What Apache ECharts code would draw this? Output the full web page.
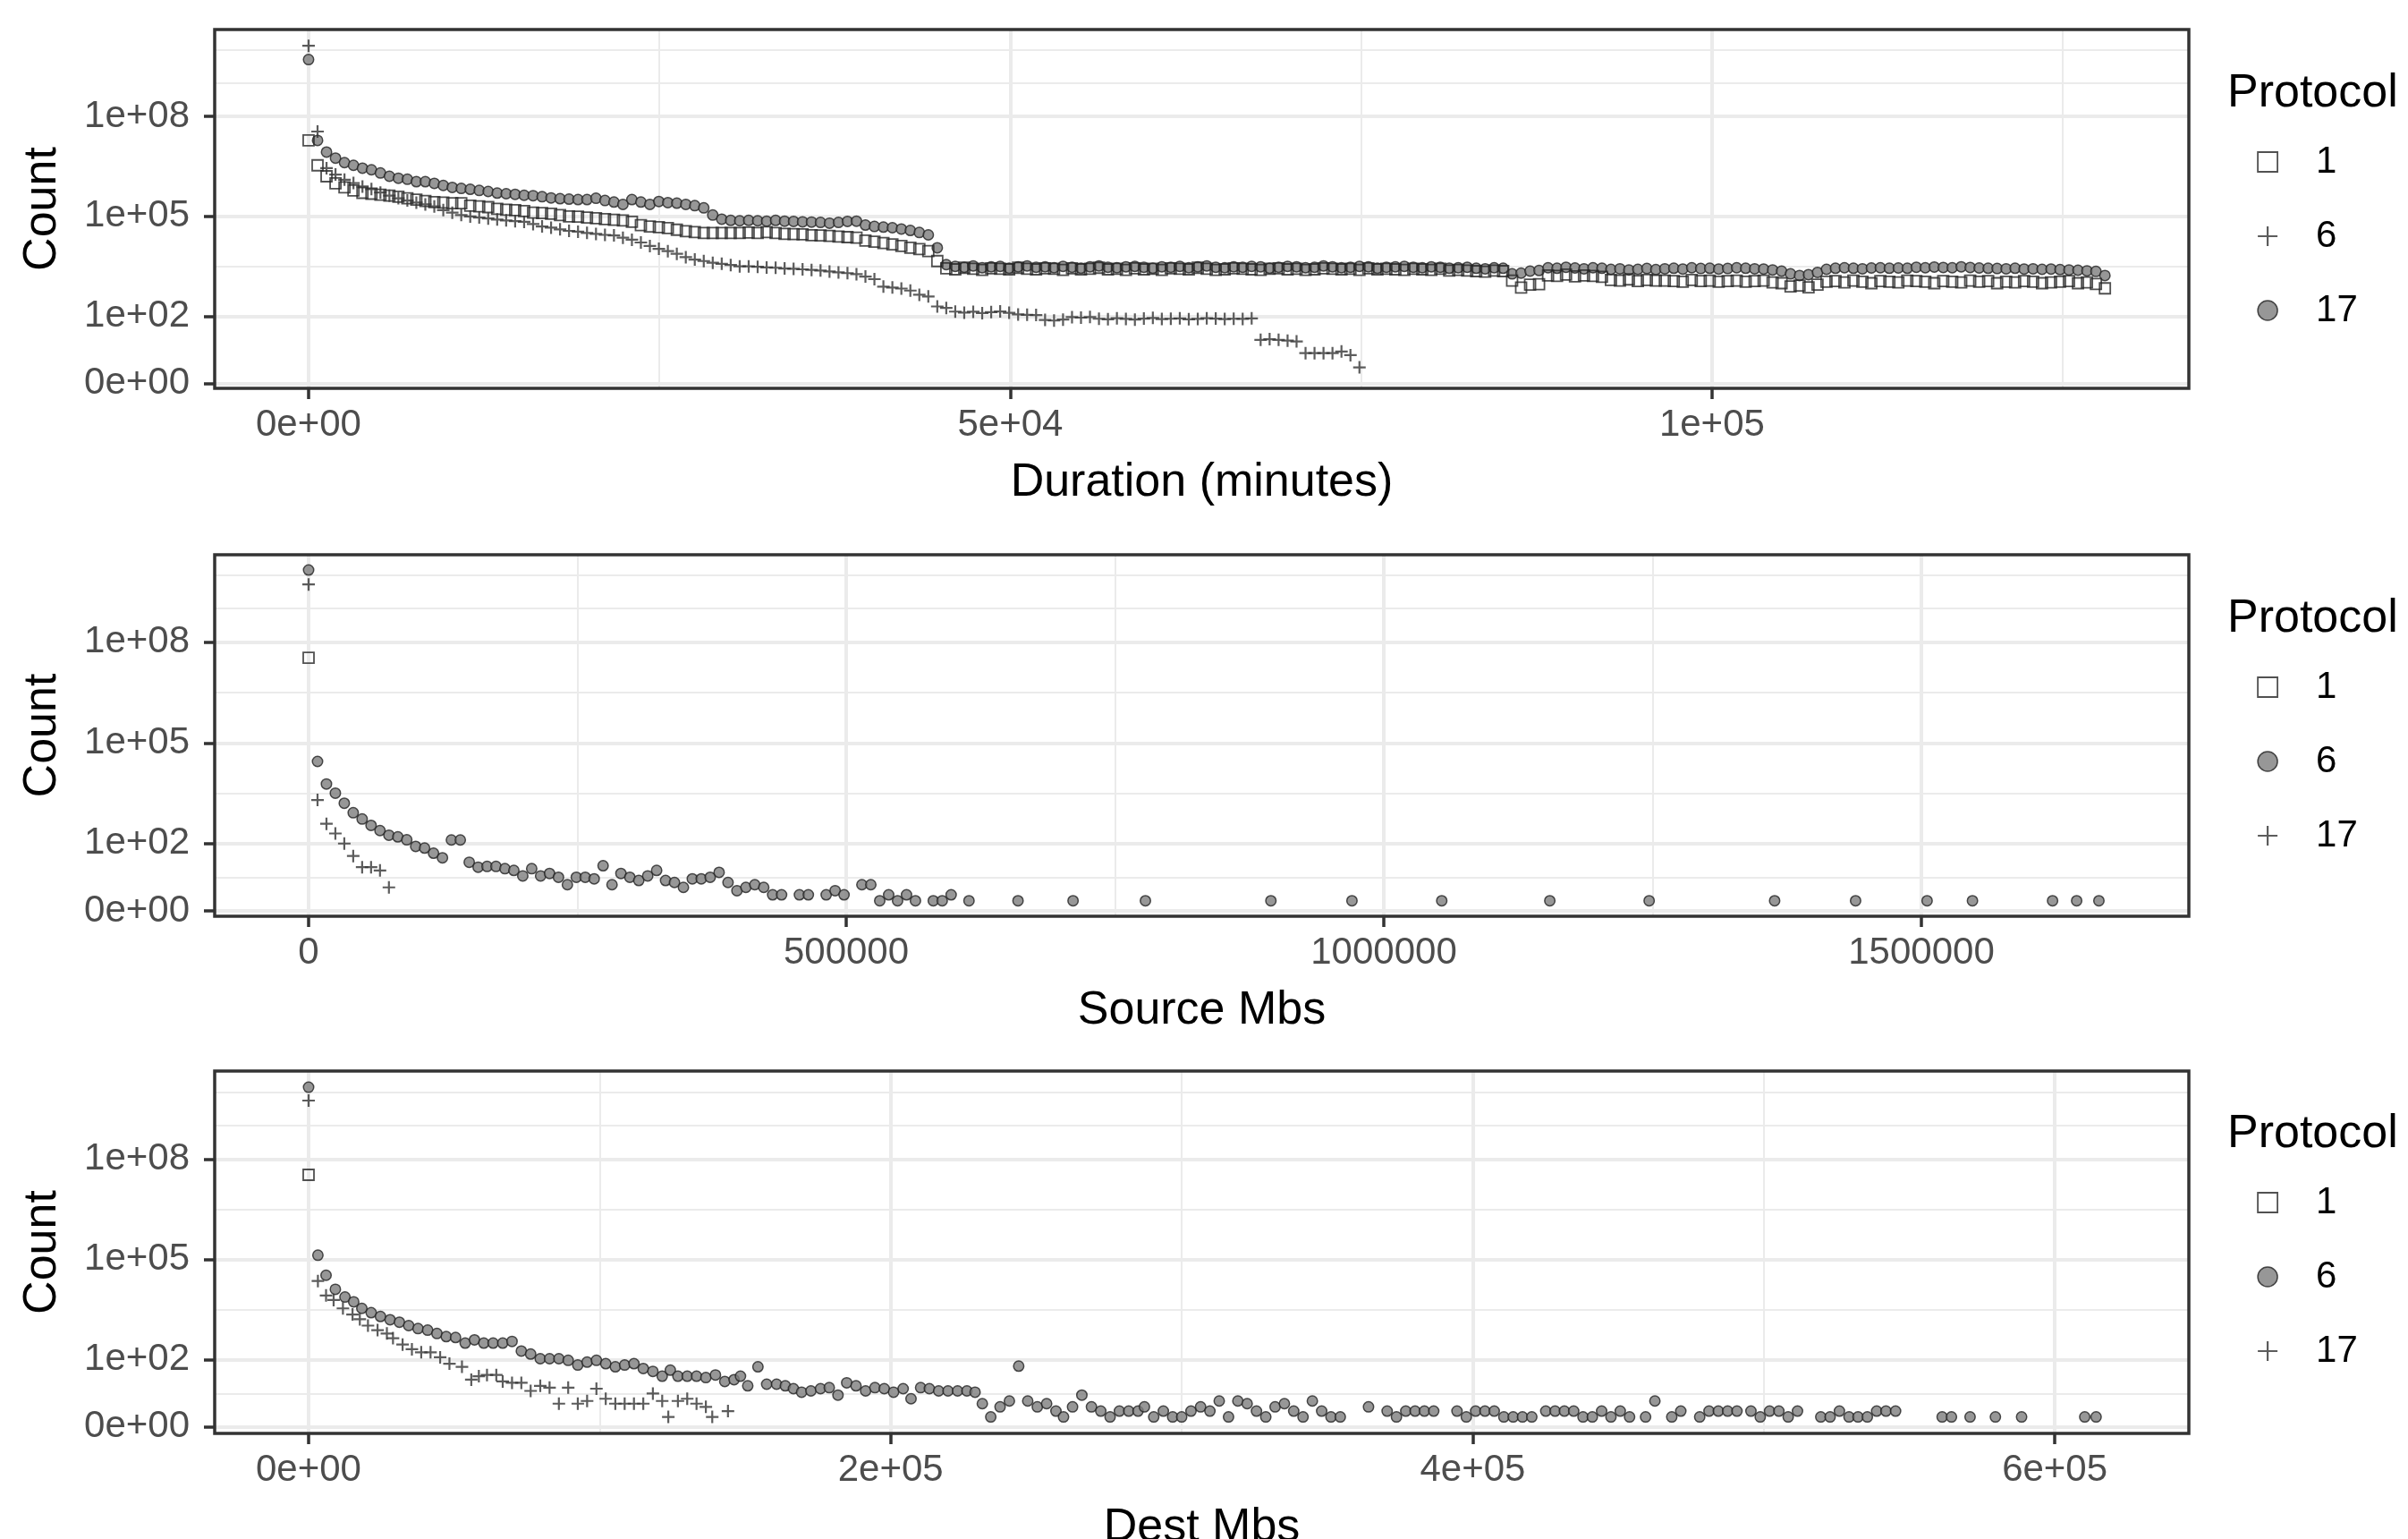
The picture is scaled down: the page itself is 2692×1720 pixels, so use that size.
<!DOCTYPE html>
<html>
<head>
<meta charset="utf-8">
<title>Flow counts by protocol</title>
<script src="https://cdn.jsdelivr.net/npm/echarts@6.0.0/dist/echarts.min.js"></script>
<style>
  html, body { margin: 0; padding: 0; background: #ffffff; }
  #chart { width: 2692px; height: 1720px; }
</style>
</head>
<body>
<div id="chart"></div>
<script>
// ---------- Duration (minutes): flow counts per 640-minute bin (bin i starts at i * 640) ----------
const durBinMinutes = 640;
const durCount17 = [
  5.0e9, 1.9e7, 8.5e6, 5.6e6, 4.1e6, 3.4e6, 2.8e6, 2.5e6, 2.0e6, 1.6e6,
  1.4e6, 1.3e6, 1.1e6, 1.1e6, 9.8e5, 8.5e5, 7.4e5, 6.9e5, 6.5e5, 6.0e5,
  5.6e5, 5.0e5, 4.8e5, 4.6e5, 4.3e5, 4.2e5, 3.9e5, 3.6e5, 3.4e5, 3.3e5,
  3.2e5, 3.2e5, 3.5e5, 3.0e5, 2.7e5, 2.3e5, 3.2e5, 2.7e5, 2.3e5, 2.8e5,
  2.6e5, 2.5e5, 2.3e5, 2.1e5, 1.8e5, 1.1e5, 8.3e4, 7.6e4, 7.4e4, 7.6e4,
  7.4e4, 7.2e4, 7.6e4, 7.2e4, 7.1e4, 6.9e4, 6.8e4, 6.6e4, 6.3e4, 6.6e4,
  7.1e4, 7.2e4, 5.5e4, 5.0e4, 4.8e4, 4.6e4, 4.2e4, 3.8e4, 3.3e4, 2.8e4,
  1.15e4, 3600, 3200, 3000, 3300, 2900, 3100, 3200, 2800, 3100,
  3300, 3000, 3100, 2900, 3200, 3000, 2800, 3100, 3300, 3000,
  2900, 3100, 3200, 3000, 2800, 3100, 3000, 3200, 2900, 3100,
  3300, 3000, 2900, 3100, 3000, 3200, 3100, 2800, 3000, 3200,
  3100, 2900, 3000, 3300, 3100, 2900, 3000, 3200, 3100, 2800,
  3000, 3100, 3200, 3000, 2900, 3100, 3000, 2800, 2900, 3000,
  2800, 2700, 2900, 2800, 1900, 2000, 2300, 2400, 2900, 2800,
  3000, 2850, 2700, 2900, 2800, 2600, 2700, 2500, 2600, 2750,
  2550, 2700, 2800, 2650, 2900, 2750, 2800, 2650, 2750, 2900,
  2800, 2700, 2650, 2500, 2300, 1900, 1700, 1800, 2100, 2600,
  2800, 2900, 2800, 2700, 2850, 2900, 2800, 2850, 2800, 3000,
  2900, 3050, 2950, 2900, 3100, 2950, 2850, 2800, 2750, 2700,
  2800, 2650, 2700, 2600, 2650, 2550, 2500, 2450, 2350, 2250,
  1700
];
const durCount1 = [
  1.9e7, 3.4e6, 1.6e6, 9.8e5, 7.4e5, 6.0e5, 5.1e5, 4.8e5, 4.5e5, 4.2e5,
  3.9e5, 3.5e5, 3.2e5, 2.9e5, 2.7e5, 2.6e5, 2.5e5, 2.5e5, 2.1e5, 2.0e5,
  1.9e5, 1.7e5, 1.6e5, 1.55e5, 1.45e5, 1.3e5, 1.26e5, 1.2e5, 1.1e5, 1.0e5,
  9.8e4, 9.3e4, 8.9e4, 8.3e4, 7.9e4, 7.6e4, 6.9e4, 5.5e4, 5.0e4, 4.8e4,
  4.5e4, 4.0e4, 3.6e4, 3.4e4, 3.2e4, 3.2e4, 3.2e4, 3.2e4, 3.2e4, 3.3e4,
  3.2e4, 3.4e4, 3.2e4, 3.0e4, 2.95e4, 2.9e4, 2.75e4, 2.7e4, 2.6e4, 2.5e4,
  2.4e4, 2.3e4, 1.9e4, 1.75e4, 1.6e4, 1.45e4, 1.3e4, 1.15e4, 1.05e4, 9100,
  4600, 2800, 2600, 2900, 2700, 2500, 2800, 2700, 2600, 2900,
  2700, 2600, 2800, 2700, 2500, 2800, 2600, 2700, 2900, 2600,
  2700, 2500, 2800, 2600, 2700, 2500, 2800, 2700, 2600, 2900,
  2700, 2500, 2600, 2800, 2700, 2600, 2500, 2700, 2800, 2600,
  2700, 2500, 2600, 2800, 2700, 2600, 2700, 2500, 2800, 2600,
  2700, 2600, 2500, 2700, 2600, 2500, 2700, 2400, 2500, 2400,
  2300, 2200, 2400, 2300, 1200, 740, 900, 930, 1700, 1650,
  1800, 1600, 1700, 1650, 1550, 1250, 1200, 1300, 1150, 1250,
  1200, 1200, 1150, 1100, 1250, 1150, 1200, 1100, 1150, 1200,
  1100, 1150, 1200, 1050, 1000, 800, 850, 750, 900, 1100,
  1150, 1050, 1200, 1100, 1000, 1150, 1100, 1050, 1200, 1150,
  1100, 1000, 1150, 1100, 1050, 1200, 1100, 1150, 1000, 1100,
  1050, 1150, 1100, 1000, 1050, 1100, 1150, 1000, 1050, 950,
  700
];
const durCount6 = [
  1.3e10, 3.5e7, 2.8e6, 1.8e6, 1.26e6, 1.0e6, 7.9e5, 6.6e5, 5.2e5, 4.2e5,
  3.5e5, 3.0e5, 2.6e5, 2.3e5, 2.0e5, 1.55e5, 1.3e5, 1.1e5, 1.0e5, 9.3e4,
  8.7e4, 8.1e4, 7.6e4, 7.2e4, 6.9e4, 5.9e4, 5.0e4, 4.6e4, 4.1e4, 3.7e4,
  3.5e4, 3.2e4, 3.0e4, 2.8e4, 2.7e4, 2.3e4, 2.0e4, 1.66e4, 1.3e4, 1.07e4,
  9100, 7600, 6000, 5100, 4600, 4100, 3800, 3500, 3200, 3200,
  3100, 2950, 2900, 2750, 2700, 2600, 2500, 2400, 2240, 2100,
  2000, 1860, 1580, 1320, 790, 740, 690, 600, 450, 400,
  200, 180, 140, 130, 138, 126, 135, 141, 129, 115,
  112, 110, 78, 75, 80, 95, 92, 96, 85, 82,
  88, 84, 80, 86, 90, 83, 85, 87, 82, 84,
  88, 86, 83, 85, 84, 87, 19, 20, 19, 18,
  17, 7, 7, 7, 7, 8, 6, 2
];

// ---------- Source Mbs ----------
const srcX1 = [0];
const srcCount1 = [3.4e7];
const srcX6 = [
  0, 8300, 16600, 24900, 33200, 41500, 49800, 58100, 66400, 74700,
  83000, 91300, 99600, 107900, 116200, 124500, 132800, 141100, 149400, 157700,
  166000, 174300, 182600, 190900, 199200, 207500, 215800, 224100, 232400, 240700,
  249000, 257300, 265600, 273900, 282200, 290500, 298800, 307100, 315400, 323700,
  332000, 340300, 348600, 356900, 365200, 373500, 381800, 390100, 398400, 406700,
  415000, 423300, 431600, 439900,
  456500, 464800, 481400, 489700, 498000, 514600, 522900, 531200, 539500, 547800,
  556100, 564400, 581000, 589300, 597600, 614200,
  659800, 711000, 778300, 895000, 970400, 1053900, 1154400, 1246800, 1363500, 1438800,
  1505300, 1547500, 1622000, 1644400, 1665100
];
const srcCount6 = [
  1.4e10, 28000, 6000, 3200, 1600, 830, 540, 350, 245, 178,
  158, 129, 82, 73, 51, 37, 128, 128, 27, 19,
  20, 20, 17, 15, 10, 17, 10, 12, 9, 5,
  9, 9, 8, 21, 5, 12, 9, 7, 10, 15,
  7, 6, 4, 8, 8, 9, 13, 6, 3, 4,
  5, 4, 2, 2,
  2, 2, 2, 3, 2, 5, 5, 1, 2, 1,
  2, 1, 1, 1, 2, 1,
  1, 1, 1, 1, 1, 1, 1, 1, 1, 1,
  1, 1, 1, 1, 1
];
const srcX17 = [0, 8300, 16600, 24900, 33200, 41500, 49800, 58100, 66400, 74700];
const srcCount17 = [5.2e9, 2000, 390, 200, 100, 42, 19, 19, 15, 4];

// ---------- Dest Mbs ----------
const dstX1 = [0];
const dstCount1 = [3.4e7];
const dstX6 = [
  0, 3200, 6000, 9200, 12500, 15500, 18300, 21500, 24700, 28000,
  31200, 34400, 37600, 40900, 44100, 47300, 50500, 53800, 57000, 60200,
  63400, 66700, 69900, 73100, 76300, 79600, 82800, 86000, 89200, 92500,
  95700, 98900, 102100, 105400, 108600, 111800, 115000, 118300, 121500, 124300,
  126900, 130100, 133300, 136500, 139800, 143000, 146200, 148400, 150900, 154400,
  157400, 160800, 163800, 166600, 169400, 172600, 175900, 178900, 181900, 184900,
  188100, 191400, 194600, 197800, 201000, 204300, 207000, 210300, 213300, 216500,
  219700, 223000, 226200, 229000, 231500,
  234400, 237600, 240800, 244000, 247100, 250400, 253600, 256800, 259400, 262500,
  265700, 269000, 272200, 275400, 278600, 281800, 285000, 287200, 290400, 293700,
  296900, 300000, 303200, 306500, 309700, 312900, 316100, 319300, 322500, 325700,
  328900, 332100, 335300, 338500, 341700, 344900, 348100, 351300, 354500, 364200,
  370600, 373800, 377000, 380200, 383400, 386600, 394600, 397800, 401000, 404200,
  407400, 410700, 413900, 417100, 420300, 425100, 428300, 431500, 434700, 437900,
  441100, 444300, 447500, 450700, 453900, 459400, 462600, 468400, 471500, 478000,
  481200, 484400, 487600, 490800, 495600, 498800, 502000, 505200, 508400, 511600,
  519600, 522800, 526000, 529300, 532400, 535600, 538800, 542000, 545300, 561300,
  564500, 570900, 579600, 588600, 610300, 614200
];
const dstCount6 = [
  1.4e10, 135000, 34000, 13000, 7600, 5500, 3500, 2600, 2000, 1600,
  1350, 1070, 870, 780, 620, 500, 470, 320, 400, 320,
  320, 320, 360, 185, 150, 109, 109, 109, 97, 70,
  86, 97, 77, 62, 70, 77, 55, 45, 32, 49,
  32, 32, 32, 29, 35, 22, 25, 32, 16, 62,
  18, 18, 16, 13, 10, 11, 13, 14, 8, 20,
  16, 11, 14, 13, 10, 13, 6, 14, 13, 11,
  11, 11, 11, 10, 4,
  1, 3, 5, 65, 5, 3, 4, 2, 1, 3,
  8, 3, 2, 1, 2, 2, 2, 3, 1, 2,
  1, 1, 2, 3, 2, 5, 1, 5, 4, 2,
  1, 3, 4, 2, 1, 5, 2, 1, 1, 3,
  2, 1, 2, 2, 2, 2, 2, 1, 2, 2,
  2, 1, 1, 1, 1, 2, 2, 2, 2, 1,
  1, 2, 1, 2, 1, 1, 5, 1, 2, 1,
  2, 2, 2, 2, 2, 1, 2, 2, 1, 2,
  1, 1, 2, 1, 1, 1, 2, 2, 2, 1,
  1, 1, 1, 1, 1, 1
];
const dstX17 = [
  0, 3200, 6000, 8600, 11800, 15100, 17600, 20400, 23700, 26900,
  29000, 32300, 35500, 38700, 41900, 45200, 48400, 52700, 55900, 58500,
  61300, 64500, 66700, 69900, 73100, 76300, 79600, 82800, 86000, 89200,
  92500, 95700, 98900, 102100, 105400, 108600, 111800, 115000, 118300, 121500,
  123600, 126900, 130100, 133300, 136500, 138700, 144100
];
const dstCount17 = [
  5.6e9, 23000, 8500, 6200, 3500, 2300, 1650, 1070, 780, 620,
  450, 290, 210, 170, 170, 120, 77, 62, 25, 32,
  35, 35, 22, 20, 20, 11, 16, 14, 4, 14,
  4, 5, 13, 6, 4, 4, 4, 4, 9, 5,
  1, 5, 6, 4, 3, 1, 2
];

// ---------- Axis breaks and labels ----------
const countBreaks = [0, 1e2, 1e5, 1e8];
const countBreakLabels = ['0e+00', '1e+02', '1e+05', '1e+08'];
const durBreaks = [0, 5e4, 1e5];
const durBreakLabels = ['0e+00', '5e+04', '1e+05'];
const srcBreaks = [0, 5e5, 1e6, 1.5e6];
const srcBreakLabels = ['0', '500000', '1000000', '1500000'];
const dstBreaks = [0, 2e5, 4e5, 6e5];
const dstBreakLabels = ['0e+00', '2e+05', '4e+05', '6e+05'];

// ---------- Drawing ----------
const FONT = "'Liberation Sans', Arial, Helvetica, sans-serif";

// Counts are drawn on a log10(1 + n) scale so that zero stays on the axis.
const tr = n => Math.log10(1 + n);
const pairs = (xs, counts) => counts.map((c, i) => [xs[i], tr(c)]);
const binStarts = n => Array.from({ length: n }, (_, i) => i * durBinMinutes);

// Minor count lines sit halfway between the transformed breaks, plus one break-step above the top break.
const majorT = countBreaks.map(tr);
const stepT = majorT[1] - majorT[0];
const extT = majorT.concat([majorT[majorT.length - 1] + stepT]);
const minorT = [];
for (let i = 0; i < extT.length - 1; i++) minorT.push((extT[i] + extT[i + 1]) / 2);
minorT.push(extT[extT.length - 1]);

const SQUARE = 'path://M0,0L10,0L10,10L0,10Z';
const PLUS = 'path://M0,5L10,5M5,0L5,10';
const SHAPES = {
  square: { symbol: SQUARE, size: 12, style: { color: 'rgba(255,255,255,0)', borderColor: '#262626', borderWidth: 1.8 } },
  plus:   { symbol: PLUS,   size: 14, style: { color: 'rgba(255,255,255,0)', borderColor: '#333333', borderWidth: 2.2 } },
  circle: { symbol: 'circle', size: 11.5, style: { color: '#7d7d7d', borderColor: '#222222', borderWidth: 1.5 } }
};

const PLOT_LEFT = 240, PLOT_WIDTH = 2207;
// Legend keys are centred at this x; the legend box starts at the key's left edge.
const KEY_CENTER_X = 2534, KEY_SIZE = 22, KEY_BOX_WIDTH = 98;

const panels = [
  {
    key: 'Duration', title: 'Duration (minutes)',
    top: 33, height: 401,
    xMin: -6690, xMax: 133980, xBreaks: durBreaks, xLabels: durBreakLabels,
    xMinor: [2.5e4, 7.5e4, 1.25e5],
    yMin: -0.15, yMax: 10.6, yMinor: [minorT[1], minorT[3], minorT[4]],
    legendTop: 160, titleTop: 79,
    groups: [
      { proto: '17', shape: 'circle', x: binStarts(durCount17.length), n: durCount17 },
      { proto: '1',  shape: 'square', x: binStarts(durCount1.length),  n: durCount1 },
      { proto: '6',  shape: 'plus',   x: binStarts(durCount6.length),  n: durCount6 }
    ],
    order: ['1', '6', '17']
  },
  {
    key: 'Source', title: 'Source Mbs',
    top: 620, height: 404,
    xMin: -87350, xMax: 1748750, xBreaks: srcBreaks, xLabels: srcBreakLabels,
    xMinor: [2.5e5, 7.5e5, 1.25e6],
    yMin: -0.16, yMax: 10.6, yMinor: minorT,
    legendTop: 747, titleTop: 666,
    groups: [
      { proto: '6',  shape: 'circle', x: srcX6,  n: srcCount6 },
      { proto: '1',  shape: 'square', x: srcX1,  n: srcCount1 },
      { proto: '17', shape: 'plus',   x: srcX17, n: srcCount17 }
    ],
    order: ['1', '6', '17']
  },
  {
    key: 'Dest', title: 'Dest Mbs',
    top: 1197, height: 405,
    xMin: -32270, xMax: 646070, xBreaks: dstBreaks, xLabels: dstBreakLabels,
    xMinor: [1e5, 3e5, 5e5],
    yMin: -0.19, yMax: 10.63, yMinor: minorT,
    legendTop: 1323, titleTop: 1242,
    groups: [
      { proto: '6',  shape: 'circle', x: dstX6,  n: dstCount6 },
      { proto: '1',  shape: 'square', x: dstX1,  n: dstCount1 },
      { proto: '17', shape: 'plus',   x: dstX17, n: dstCount17 }
    ],
    order: ['1', '6', '17']
  }
];

const labelFor = (values, labels) => v => {
  for (let i = 0; i < values.length; i++) if (Math.abs(values[i] - v) < 1e-6 * Math.max(1, Math.abs(v))) return labels[i];
  return '';
};

const GRID_MAJOR = { color: '#ebebeb', width: 4, type: 'solid' };
const GRID_MINOR = { color: '#ebebeb', width: 2, type: 'solid' };

const grid = [], xAxis = [], yAxis = [], series = [], legend = [], title = [];

panels.forEach((p, g) => {
  grid.push({
    left: PLOT_LEFT, width: PLOT_WIDTH, top: p.top, height: p.height,
    outerBoundsMode: 'none', containLabel: false,
    show: true, borderColor: '#333333', borderWidth: 3.5, backgroundColor: 'transparent', z: 4
  });

  xAxis.push({
    type: 'value', gridIndex: g, min: p.xMin, max: p.xMax,
    axisLine: { show: false, onZero: false },
    splitLine: { show: false },
    axisTick: { show: true, length: 12, customValues: p.xBreaks, lineStyle: { color: '#333333', width: 3.5 } },
    axisLabel: {
      customValues: p.xBreaks, formatter: labelFor(p.xBreaks, p.xLabels),
      fontSize: 42, lineHeight: 42, color: '#4d4d4d', fontFamily: FONT, margin: 20
    },
    name: p.title, nameLocation: 'middle', nameGap: 80,
    nameTextStyle: { fontSize: 52, lineHeight: 52, color: '#000000', fontFamily: FONT }
  });

  const yT = countBreaks.map(tr);
  yAxis.push({
    type: 'value', gridIndex: g, min: p.yMin, max: p.yMax,
    axisLine: { show: false, onZero: false },
    splitLine: { show: false },
    axisTick: { show: true, length: 12, customValues: yT, lineStyle: { color: '#333333', width: 3.5 } },
    axisLabel: {
      customValues: yT, formatter: labelFor(yT, countBreakLabels),
      fontSize: 42, lineHeight: 42, color: '#4d4d4d', fontFamily: FONT, margin: 28
    },
    name: 'Count', nameLocation: 'middle', nameGap: 166,
    nameTextStyle: { fontSize: 52, lineHeight: 52, color: '#000000', fontFamily: FONT }
  });

  // Panel grid lines, placed through the axes' own scales.
  const lines = []
    .concat(yT.map(v => ({ yAxis: v, lineStyle: GRID_MAJOR })))
    .concat(p.yMinor.map(v => ({ yAxis: v, lineStyle: GRID_MINOR })))
    .concat(p.xBreaks.map(v => ({ xAxis: v, lineStyle: GRID_MAJOR })))
    .concat(p.xMinor.map(v => ({ xAxis: v, lineStyle: GRID_MINOR })));
  series.push({
    name: p.key + ' grid', type: 'scatter', xAxisIndex: g, yAxisIndex: g,
    data: [], silent: true, z: 1, animation: false,
    markLine: {
      silent: true, z: 1, animation: false, symbol: ['none', 'none'],
      label: { show: false }, emphasis: { disabled: true },
      data: lines
    }
  });

  p.groups.forEach(grp => {
    const s = SHAPES[grp.shape];
    series.push({
      name: p.key + ' ' + grp.proto, type: 'scatter', xAxisIndex: g, yAxisIndex: g,
      symbol: s.symbol, symbolSize: s.size, itemStyle: s.style,
      data: pairs(grp.x, grp.n), z: 3, animation: false, silent: true,
      emphasis: { disabled: true }
    });
  });

  legend.push({
    orient: 'vertical', left: KEY_CENTER_X - KEY_SIZE / 2, top: p.legendTop, padding: 0, itemGap: 41,
    itemWidth: KEY_BOX_WIDTH, itemHeight: KEY_SIZE, selectedMode: false,
    textStyle: { fontSize: 42, lineHeight: 42, color: '#000000', fontFamily: FONT },
    formatter: name => name.split(' ')[1],
    data: p.order.map(proto => {
      const grp = p.groups.find(q => q.proto === proto);
      const s = SHAPES[grp.shape];
      return { name: p.key + ' ' + proto, icon: s.symbol, itemStyle: Object.assign({}, s.style) };
    })
  });

  title.push({
    text: 'Protocol', left: 2490, top: p.titleTop, padding: 0,
    textStyle: { fontSize: 52, lineHeight: 52, fontWeight: 'normal', color: '#000000', fontFamily: FONT }
  });
});

const chart = echarts.init(document.getElementById('chart'), null, { renderer: 'canvas' });
chart.setOption({
  backgroundColor: '#ffffff',
  animation: false,
  textStyle: { fontFamily: FONT },
  title, legend, grid, xAxis, yAxis, series
});
</script>
</body>
</html>
